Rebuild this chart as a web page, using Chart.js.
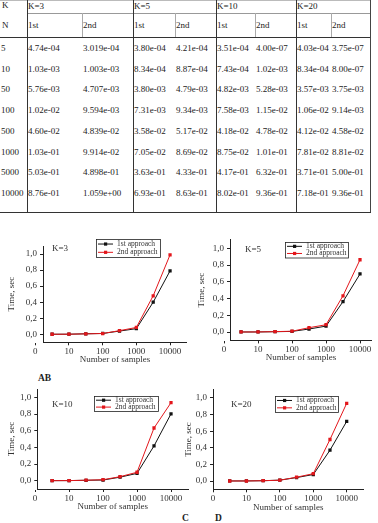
<!DOCTYPE html>
<html>
<head>
<meta charset="utf-8">
<script src="https://cdn.jsdelivr.net/npm/chart.js@4.4.0/dist/chart.umd.min.js"></script>
<style>
  body { margin: 0; background: #fff; }
  #page { position: relative; width: 378px; height: 523px; overflow: hidden;
          font-family: "Liberation Serif", "DejaVu Serif", serif; color: #222; }
  .t { position: absolute; font-size: 9px; line-height: 10px; white-space: nowrap; }
  .ln { position: absolute; }
  .tag { position: absolute; font-size: 9.5px; font-weight: bold; line-height: 10px; }
  canvas { position: absolute; }
</style>
</head>
<body>
<div id="page">
  <div class="tag" style="left:38px;top:373px">AB</div>
  <div class="tag" style="left:182px;top:513px">C</div>
  <div class="tag" style="left:215px;top:513px">D</div>
  <canvas id="cA"></canvas>
  <canvas id="cB"></canvas>
  <canvas id="cC"></canvas>
  <canvas id="cD"></canvas>
</div>
<script>
// table data
const samples = [5, 10, 50, 100, 500, 1000, 5000, 10000];
const kLabels = ["K=3", "K=5", "K=10", "K=20"];
const approachLabels = ["1st", "2nd"];
const k3First  = [4.74e-04, 1.03e-03, 5.76e-03, 1.02e-02, 4.60e-02, 1.03e-01, 5.03e-01, 8.76e-01];
const k3Second = [3.019e-04, 1.003e-03, 4.707e-03, 9.594e-03, 4.839e-02, 9.914e-02, 4.898e-01, 1.059e+00];
const k5First  = [3.80e-04, 8.34e-04, 3.80e-03, 7.31e-03, 3.58e-02, 7.05e-02, 3.63e-01, 6.93e-01];
const k5Second = [4.21e-04, 8.87e-04, 4.79e-03, 9.34e-03, 5.17e-02, 8.69e-02, 4.33e-01, 8.63e-01];
const k10First  = [3.51e-04, 7.43e-04, 4.82e-03, 7.58e-03, 4.18e-02, 8.75e-02, 4.17e-01, 8.02e-01];
const k10Second = [4.00e-07, 1.02e-03, 5.28e-03, 1.15e-02, 4.78e-02, 1.01e-01, 6.32e-01, 9.36e-01];
const k20First  = [4.03e-04, 8.34e-04, 3.57e-03, 1.06e-02, 4.12e-02, 7.81e-02, 3.71e-01, 7.18e-01];
const k20Second = [3.75e-07, 8.00e-07, 3.75e-03, 9.14e-03, 4.58e-02, 8.81e-02, 5.00e-01, 9.36e-01];

// the K=3 plot does not follow its table column
const plotK3First  = [0.0005, 0.001, 0.006, 0.01, 0.04, 0.07, 0.40, 0.79];
const plotK3Second = [0.0003, 0.001, 0.005, 0.0096, 0.045, 0.085, 0.48, 0.99];

// axes
const xTickPos = [0, 2, 4, 6, 8];
const xTickLabels = ["0", "10", "100", "1000", "10000"];
const yTickValues = [0, 0.2, 0.4, 0.6, 0.8, 1.0];
const seriesNames = ["1st approach", "2nd approach"];

// ---------- table ----------
const page = document.getElementById("page");

function fmt(v, digits) {
  let s = v.toExponential(digits);           // "4.74e-4"
  return s.replace(/e([+-])(\d)$/, "e$10$2");  // "4.74e-04"
}
function txt(s, x, yc) {
  const d = document.createElement("div");
  d.className = "t";
  d.textContent = s;
  d.style.left = x + "px";
  d.style.top = (yc - 5) + "px";
  page.appendChild(d);
}
function line(x, y, w, h, c) {
  const d = document.createElement("div");
  d.className = "ln";
  d.style.cssText = `left:${x}px;top:${y}px;width:${w}px;height:${h}px;background:${c}`;
  page.appendChild(d);
}

const colX = [27, 82, 133, 175, 216, 255, 296, 331];
const rightX = 370;
const columns = [
  [k3First, 2], [k3Second, 3], [k5First, 2], [k5Second, 2],
  [k10First, 2], [k10Second, 2], [k20First, 2], [k20Second, 2]
];

txt("K", 2, 5);
txt("N", 2, 25);
kLabels.forEach((k, i) => txt(k, colX[i * 2] + 1, 6));
colX.forEach((x, i) => txt(approachLabels[i % 2], x + 1, 25));
samples.forEach((n, r) => {
  const yc = 48 + r * 20.7;
  txt(String(n), 1, yc);
  columns.forEach(([arr, dg], c) => txt(fmt(arr[r], dg), colX[c] + 1, yc));
});

line(0, 0, rightX, 1, "#bbb");
line(27, 13, rightX - 27, 1, "#999");
line(0, 36.5, rightX, 1.5, "#333");
line(0, 211.5, rightX + 1, 1.5, "#333");
[27, 133, 216, 296].forEach(x => line(x, 0, 1.3, 212, "#333"));
line(rightX, 0, 1.3, 212, "#444");
[82, 175, 255, 331].forEach(x => line(x, 13, 1, 24, "#aaa"));

// ---------- charts ----------
Chart.defaults.font.family = '"Liberation Serif", "DejaVu Serif", serif';
Chart.defaults.color = "#333";

const plotPanels = [
  { id: "cA", k: "K=3",  first: plotK3First, second: plotK3Second,
    box: { left: 0, top: 236, w: 192, h: 129 },
    area: { left: 43, right: 186.9, top: 246, bottom: 342.3 }, xMin: 0.46, xMax: 9,
    legend: { x: 96, y: 239, w: 64, h: 18 }, kPos: { x: 52, y: 249 }, yTitleX: 12 },
  { id: "cB", k: "K=5",  first: k5First, second: k5Second,
    box: { left: 188, top: 230, w: 190, h: 133 },
    area: { left: 230, right: 371.9, top: 239.9, bottom: 340.4 }, xMin: 0.35, xMax: 8.7,
    legend: { x: 285, y: 242, w: 63, h: 15.5 }, kPos: { x: 245, y: 250 }, yTitleX: 202 },
  { id: "cC", k: "K=10", first: k10First, second: k10Second,
    box: { left: 0, top: 379, w: 192, h: 133 },
    area: { left: 37.3, right: 188.9, top: 389, bottom: 489 }, xMin: 0.13, xMax: 9,
    legend: { x: 94, y: 396, w: 64, h: 15 }, kPos: { x: 52, y: 405 }, yTitleX: 12 },
  { id: "cD", k: "K=20", first: k20First, second: k20Second,
    box: { left: 182, top: 379, w: 196, h: 134 },
    area: { left: 213, right: 363.4, top: 389.7, bottom: 489.3 }, xMin: 0, xMax: 9,
    legend: { x: 275, y: 396, w: 63, h: 16 }, kPos: { x: 231, y: 405 }, yTitleX: 189 }
];

// legend box + K label, inside the plot like the original figure
const panelDecor = {
  id: "panelDecor",
  afterDraw(chart, args, opts) {
    const { ctx } = chart;
    const p = opts.panel;
    const ox = p.box.left, oy = p.box.top;
    ctx.save();
    ctx.font = '9px "Liberation Serif", serif';
    ctx.fillStyle = "#333";
    ctx.textBaseline = "middle";
    ctx.fillText(p.k, p.kPos.x - ox, p.kPos.y - oy);

    const L = p.legend;
    const bx = L.x - ox, by = L.y - oy;
    ctx.strokeStyle = "#222";
    ctx.lineWidth = 0.8;
    ctx.strokeRect(bx + 0.5, by + 0.5, L.w, L.h);

    // legend rows in dataset order of the labels (1st, 2nd)
    const rows = [0.28, 0.74];
    const ds = chart.data.datasets;
    ds.forEach((d, i) => {
      const yy = by + L.h * rows[i];
      ctx.strokeStyle = d.borderColor;
      ctx.lineWidth = 1;
      ctx.beginPath();
      ctx.moveTo(bx + 2, yy);
      ctx.lineTo(bx + 17, yy);
      ctx.stroke();
      ctx.fillStyle = d.borderColor;
      ctx.fillRect(bx + 8, yy - 1.6, 3.2, 3.2);
      ctx.fillStyle = "#333";
      ctx.font = '7.5px "Liberation Serif", serif';
      ctx.fillText(d.label, bx + 21, yy);
    });
    ctx.restore();
  }
};

function toPoints(values) {
  return values.map((v, i) => ({ x: i + 1, y: v }));
}

plotPanels.forEach(p => {
  const cv = document.getElementById(p.id);
  cv.width = p.box.w;
  cv.height = p.box.h;
  cv.style.left = p.box.left + "px";
  cv.style.top = p.box.top + "px";

  const yWidth = p.area.left - p.box.left;
  const xHeight = p.box.top + p.box.h - p.area.bottom;
  const padTop = p.area.top - p.box.top;
  const padRight = p.box.left + p.box.w - p.area.right;
  const yTitlePad = p.yTitleX - p.box.left - 5.4;

  new Chart(cv, {
    type: "line",
    data: {
      datasets: [
        { label: seriesNames[0], data: toPoints(p.first), borderColor: "#111",
          backgroundColor: "#111", pointBackgroundColor: "#111", order: 1 },
        { label: seriesNames[1], data: toPoints(p.second), borderColor: "#e3161b",
          backgroundColor: "#e3161b", pointBackgroundColor: "#e3161b", order: 0 }
      ]
    },
    options: {
      responsive: false,
      animation: false,
      layout: { padding: { top: padTop, right: padRight, left: 0, bottom: 0 } },
      elements: {
        line: { borderWidth: 1, tension: 0 },
        point: { pointStyle: "rect", radius: 2.3, borderWidth: 0 }
      },
      plugins: {
        legend: { display: false },
        tooltip: { enabled: false },
        panelDecor: { panel: p }
      },
      scales: {
        x: {
          type: "linear",
          min: p.xMin,
          max: p.xMax,
          afterBuildTicks: s => { s.ticks = xTickPos.map(v => ({ value: v })); },
          afterFit: s => { s.height = xHeight; },
          ticks: {
            autoSkip: false, maxRotation: 0, padding: 1,
            font: { size: 9 }, color: "#333",
            callback: (v, i) => xTickLabels[i]
          },
          grid: { drawOnChartArea: false, tickLength: 3, color: "#222" },
          border: { color: "#222", width: 1 },
          title: { display: true, text: "Number of samples", font: { size: 9 },
                   color: "#333", padding: 0 }
        },
        y: {
          min: -0.1,
          max: 1.1,
          afterBuildTicks: s => { s.ticks = yTickValues.map(v => ({ value: v })); },
          afterFit: s => { s.width = yWidth; },
          ticks: {
            padding: 3, font: { size: 9 }, color: "#333",
            callback: v => v.toFixed(1).replace(".", ",")
          },
          grid: { drawOnChartArea: false, tickLength: 3, color: "#222" },
          border: { color: "#222", width: 1 },
          title: { display: true, text: "Time, sec", font: { size: 9 },
                   color: "#333", padding: { top: yTitlePad, bottom: 0 } }
        }
      }
    },
    plugins: [panelDecor]
  });
});
</script>
</body>
</html>
